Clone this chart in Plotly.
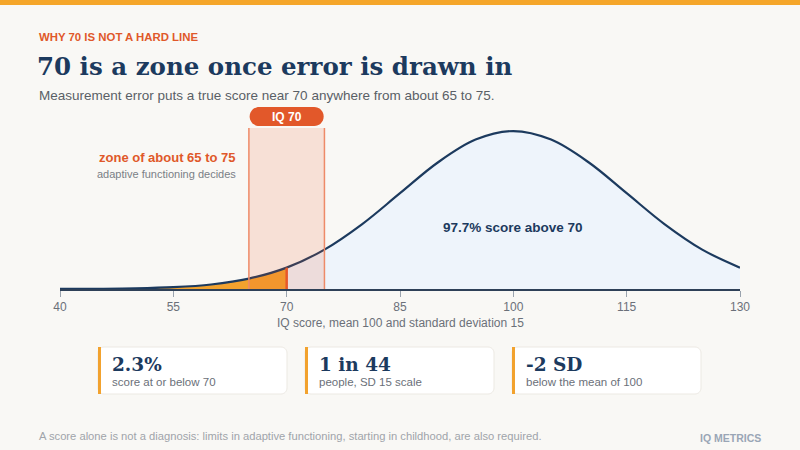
import plotly.graph_objects as go

# ===========================
# DATA
# ===========================
SCORES = [40, 45, 50, 55, 60, 65, 70, 75, 80, 85, 90, 95, 100,
          105, 110, 115, 120, 125, 130]
# share of people per IQ point (%)
DENSITY = [0.001, 0.003, 0.010, 0.030, 0.076, 0.175, 0.360, 0.663, 1.093, 1.613, 2.130, 2.516, 2.660,
           2.516, 2.130, 1.613, 1.093, 0.663, 0.360]
CUTOFF = 70
ZONE = [65, 75]
TICKS = [40, 55, 70, 85, 100, 115, 130]

CARD_VALUES = ["2.3%", "1 in 44", "-2 SD"]
CARD_NOTES = ["score at or below 70", "people, SD 15 scale", "below the mean of 100"]

KICKER = "WHY 70 IS NOT A HARD LINE"
TITLE = "70 is a zone once error is drawn in"
SUBTITLE = "Measurement error puts a true score near 70 anywhere from about 65 to 75."
AXIS_TITLE = "IQ score, mean 100 and standard deviation 15"
ABOVE_LABEL = "97.7% score above 70"
FOOTNOTE = ("A score alone is not a diagnosis: limits in adaptive functioning, "
            "starting in childhood, are also required.")
BRAND = "IQ METRICS"


# ===========================
# STYLE / GEOMETRY
# ===========================
W, H = 800, 450
L, R, T, B = 60, 60, 128, 161

bg = "#F9F8F5"
navy = "#1C3A5E"
orange = "#F2A22E"
red_orange = "#E0582A"
grey = "#6B7079"
SANS = "Liberation Sans, Arial, sans-serif"
SERIF = "DejaVu Serif, Georgia, serif"


def px(x):
    return (x - L) / (W - L - R)


def py(y):
    return (H - B - y) / (H - T - B)


def rrect(x0, y0, x1, y1, r):
    # rounded rectangle, pixel coords -> paper path
    k = 0.5523 * r
    pts = [
        f"M {px(x0 + r)},{py(y0)}",
        f"L {px(x1 - r)},{py(y0)}",
        f"C {px(x1 - r + k)},{py(y0)} {px(x1)},{py(y0 + r - k)} {px(x1)},{py(y0 + r)}",
        f"L {px(x1)},{py(y1 - r)}",
        f"C {px(x1)},{py(y1 - r + k)} {px(x1 - r + k)},{py(y1)} {px(x1 - r)},{py(y1)}",
        f"L {px(x0 + r)},{py(y1)}",
        f"C {px(x0 + r - k)},{py(y1)} {px(x0)},{py(y1 - r + k)} {px(x0)},{py(y1 - r)}",
        f"L {px(x0)},{py(y0 + r)}",
        f"C {px(x0)},{py(y0 + r - k)} {px(x0 + r - k)},{py(y0)} {px(x0 + r)},{py(y0)}",
        "Z",
    ]
    return " ".join(pts)


annotations = []


def text(x, y, s, size, color, bold=False, anchor="left", family=SANS):
    if bold:
        s = f"<b>{s}</b>"
    annotations.append(dict(
        x=px(x), y=py(y), xref="paper", yref="paper", text=s,
        showarrow=False, xanchor=anchor, yanchor="middle",
        font=dict(size=size, color=color, family=family),
    ))


# ===========================
# CURVE + FILLS
# ===========================
left_x = [s for s in SCORES if s <= CUTOFF]
left_y = [d for s, d in zip(SCORES, DENSITY) if s <= CUTOFF]
right_x = [s for s in SCORES if s >= CUTOFF]
right_y = [d for s, d in zip(SCORES, DENSITY) if s >= CUTOFF]
cut_y = DENSITY[SCORES.index(CUTOFF)]

fig = go.Figure()

fig.add_trace(go.Scatter(
    x=left_x, y=left_y, mode="lines", line=dict(width=0, shape="spline"),
    fill="tozeroy", fillcolor=orange, hoverinfo="skip",
))
fig.add_trace(go.Scatter(
    x=right_x, y=right_y, mode="lines", line=dict(width=0, shape="spline"),
    fill="tozeroy", fillcolor="#EEF4FB", hoverinfo="skip",
))
fig.add_trace(go.Scatter(
    x=SCORES, y=DENSITY, mode="lines",
    line=dict(color=navy, width=2.2, shape="spline"), hoverinfo="skip",
))
fig.add_trace(go.Scatter(
    x=[CUTOFF, CUTOFF], y=[0, cut_y], mode="lines",
    line=dict(color="#E8592A", width=2.5), hoverinfo="skip",
))

shapes = []

# error zone band
shapes.append(dict(
    type="rect", xref="x", yref="y domain", x0=ZONE[0], x1=ZONE[1], y0=0, y1=1,
    fillcolor="rgba(232,89,42,0.15)", line_width=0, layer="above",
))
for z in ZONE:
    shapes.append(dict(
        type="line", xref="x", yref="y domain", x0=z, x1=z, y0=0, y1=1,
        line=dict(color="#EE8A68", width=1.5), layer="above",
    ))

# IQ 70 pill
cx = L + (CUTOFF - TICKS[0]) / (TICKS[-1] - TICKS[0]) * (W - L - R)
shapes.append(dict(
    type="path", xref="paper", yref="paper",
    path=rrect(cx - 37, 107, cx + 37, 126, 9.5),
    fillcolor="#E2582A", line_width=0, layer="above",
))
text(cx, 117, "IQ 70", 12, "white", bold=True, anchor="center")

# top stripe
shapes.append(dict(
    type="rect", xref="paper", yref="paper",
    x0=px(0), x1=px(W), y0=py(0), y1=py(5),
    fillcolor="#F5A62A", line_width=0,
))

# ===========================
# STAT CARDS
# ===========================
card_lefts = [98, 305, 512]
card_w = 189
for left, val, note in zip(card_lefts, CARD_VALUES, CARD_NOTES):
    shapes.append(dict(
        type="path", xref="paper", yref="paper",
        path=rrect(left, 347, left + card_w, 394, 6),
        fillcolor="white", line=dict(color="#ECE9E3", width=1),
    ))
    shapes.append(dict(
        type="rect", xref="paper", yref="paper",
        x0=px(left), x1=px(left + 3), y0=py(347), y1=py(394),
        fillcolor=orange, line_width=0,
    ))
    text(left + 12, 364, val, 18.5, navy, bold=True, family=SERIF)
    text(left + 12, 382, note, 11.5, grey)

# ===========================
# TEXT
# ===========================
text(37, 37, KICKER, 11.4, red_orange, bold=True)
text(35, 66, TITLE, 24.5, navy, bold=True, family=SERIF)
text(37, 95, SUBTITLE, 13.5, "#5A5F66")
text(238, 157, "zone of about 65 to 75", 13, red_orange, bold=True, anchor="right")
text(238, 174, "adaptive functioning decides", 11, "#7A7F86", anchor="right")
text(513, 227, ABOVE_LABEL, 13.5, navy, bold=True, anchor="center")
text(400, 323, AXIS_TITLE, 12, grey, anchor="center")
text(37, 436, FOOTNOTE, 11.2, "#A0A4AA")
text(763, 438, BRAND, 10.5, "#9AA6B6", bold=True, anchor="right")

# ===========================
# LAYOUT
# ===========================
fig.update_layout(
    width=W, height=H,
    margin=dict(l=L, r=R, t=T, b=B),
    paper_bgcolor=bg, plot_bgcolor=bg,
    showlegend=False,
    font=dict(family=SANS),
    xaxis=dict(
        range=[TICKS[0], TICKS[-1]], tickvals=TICKS,
        showgrid=False, zeroline=False,
        showline=True, linecolor="#2E4057", linewidth=2,
        ticks="outside", ticklen=6, tickcolor="#9AA3AE", tickwidth=1,
        tickfont=dict(size=12, color=grey),
    ),
    yaxis=dict(range=[0, 2.711], visible=False, fixedrange=True),
    shapes=shapes,
    annotations=annotations,
)

fig.write_html(
    "out.html",
    config={"displayModeBar": False},
    post_script="document.body.style.margin='0';document.body.style.overflow='hidden';",
)
